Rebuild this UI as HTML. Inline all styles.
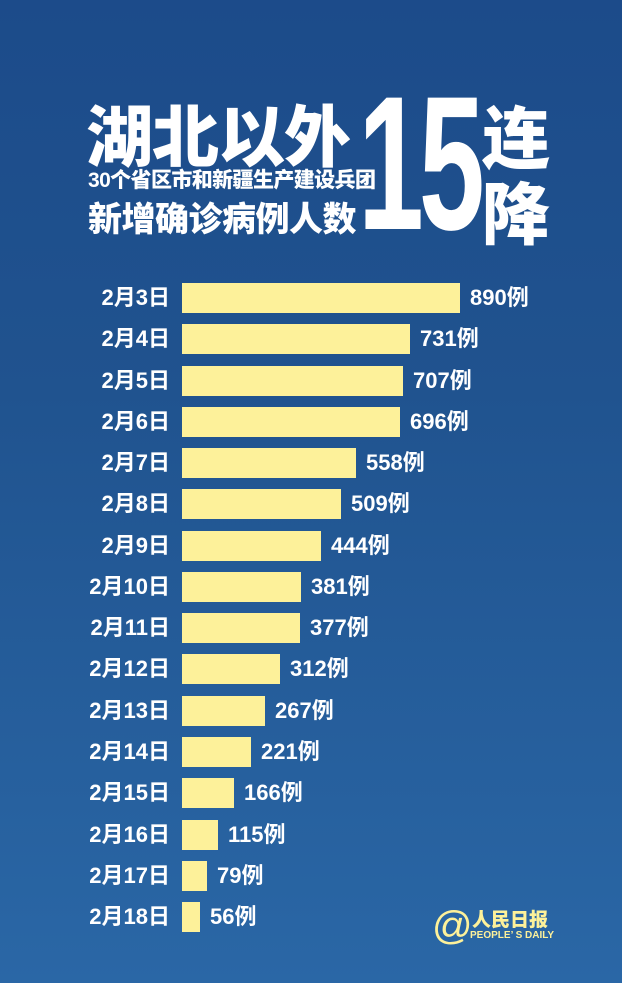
<!DOCTYPE html>
<html><head><meta charset="utf-8"><style>
body{margin:0;width:622px;height:983px;overflow:hidden;background:linear-gradient(180deg,#1c4b8a 0%,#20538f 40%,#2a67a6 100%);font-family:"Liberation Sans","Noto Sans CJK SC",sans-serif;color:#fff;position:relative}
.a{position:absolute;white-space:nowrap;font-weight:900}
.lab{position:absolute;right:452px;font-size:22px;font-weight:bold;line-height:30px}
.bar{position:absolute;left:182px;height:30px;background:#fdf19a}
.val{position:absolute;font-size:22px;font-weight:bold;line-height:30px}
</style></head><body>
<div class="a" style="left:86px;top:84px;font-size:67px;letter-spacing:-1px">湖北以外</div>
<div class="a" style="left:88px;top:164px;font-size:21px;letter-spacing:-0.6px">30个省区市和新疆生产建设兵团</div>
<div class="a" style="left:88px;top:192px;font-size:34px;letter-spacing:-0.5px">新增确诊病例人数</div>
<div class="a" style="left:358px;top:68px;font-size:191px;letter-spacing:-8px;transform:scaleX(0.62);transform-origin:left;font-family:'Liberation Sans',sans-serif;line-height:1">15</div>
<div class="a" style="left:482px;top:84px;font-size:68px">连</div>
<div class="a" style="left:482px;top:160px;font-size:68px">降</div>
<div id="c"></div>
<div class="a" style="left:432px;top:904px;font-size:40px;color:#fdf19a;font-weight:normal">@</div>
<div class="a" style="left:472px;top:905px;font-size:19px;color:#fdf19a">人民日报</div>
<div class="a" style="left:470px;top:930px;font-size:10px;color:#fdf19a;font-weight:bold">PEOPLE’ S DAILY</div>
<script>
var d=[890,731,707,696,558,509,444,381,377,312,267,221,166,115,79,56],h="";
d.forEach(function(v,i){var y=283+i*41.27,w=Math.round(v*0.3125);
h+='<div class="lab" style="top:'+y+'px">2月'+(i+3)+'日</div><div class="bar" style="top:'+y+'px;width:'+w+'px"></div><div class="val" style="top:'+y+'px;left:'+(182+w+10)+'px">'+v+'例</div>';});
document.getElementById('c').innerHTML=h;
</script>
</body></html>
